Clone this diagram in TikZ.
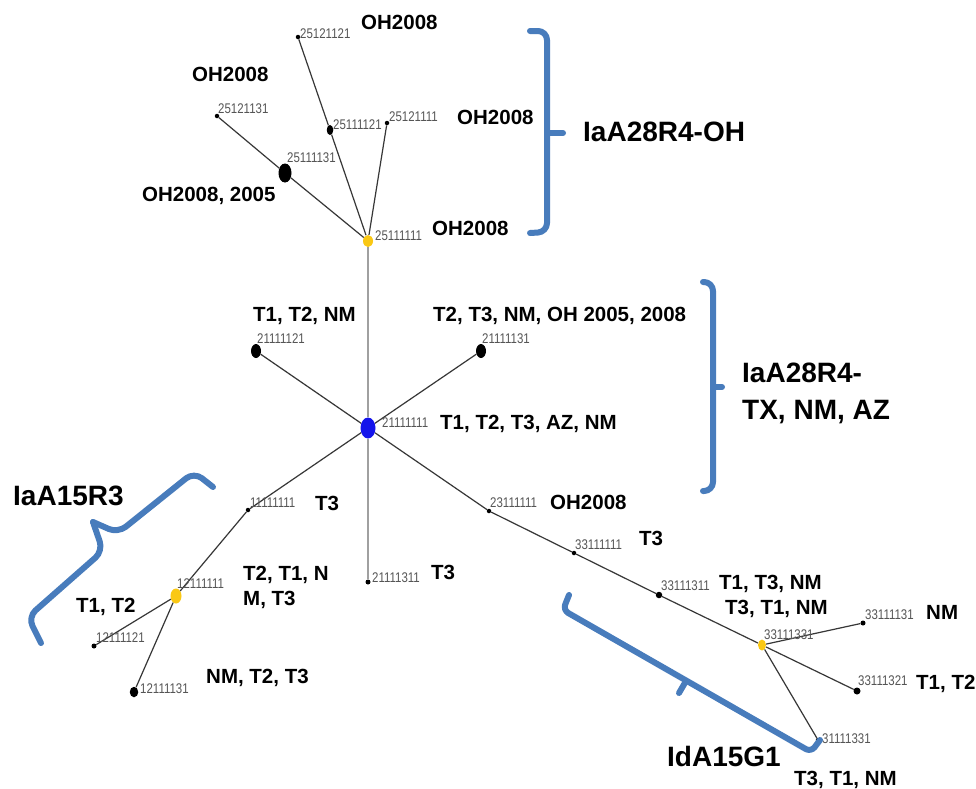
\documentclass[tikz,border=0pt]{standalone}
\usepackage{fontspec}
\setmainfont{Liberation Sans}
\newfontfamily\numfont[FakeStretch=0.82]{Liberation Sans}
\usetikzlibrary{shapes.geometric}
\definecolor{brblue}{RGB}{72,124,188}
\definecolor{numgray}{RGB}{85,85,85}
\definecolor{edgedark}{RGB}{55,55,55}
\definecolor{edgelight}{RGB}{160,160,160}
\definecolor{nodeyellow}{RGB}{250,200,20}
\definecolor{nodeblue}{RGB}{20,20,235}
\tikzset{
  lbl/.style={font=\bfseries\fontsize{20.5}{24}\selectfont, anchor=base west, inner sep=0pt},
  big/.style={font=\bfseries\fontsize{28}{34}\selectfont, anchor=base west, inner sep=0pt},
  num/.style={font=\numfont\fontsize{14}{15}\selectfont, text=numgray, anchor=base west, inner sep=0pt},
  pt/.style={ellipse, fill=black, inner sep=0pt, minimum width=#1, minimum height=#1},
  ept/.style n args={2}{ellipse, fill=black, inner sep=0pt, minimum width=#1, minimum height=#2},
  ypt/.style n args={2}{ellipse, fill=nodeyellow, inner sep=0pt, minimum width=#1, minimum height=#2},
  bpt/.style n args={2}{ellipse, fill=nodeblue, inner sep=0pt, minimum width=#1, minimum height=#2},
  edge/.style={draw=edgedark, line width=1.2pt},
  trunk/.style={draw=edgelight, line width=2.5pt},
  br/.style={draw=brblue, line width=6pt, line cap=round, line join=round},
}
\begin{document}
\begin{tikzpicture}[x=1pt,y=-1pt]
\useasboundingbox (0,0) rectangle (976,788);
\fill[white] (0,0) rectangle (976,788);

% ---- nodes (points) ----
\node[ypt={10}{12}] (n25111111) at (368,241) {};
\node[pt=4.5] (n25121121) at (298,37) {};
\node[pt=4.5] (n25121131) at (217,116) {};
\node[ept={6.5}{10}] (n25111121) at (330,130) {};
\node[pt=4.5] (n25121111) at (387,123) {};
\node[ept={13}{19}] (n25111131) at (285,173) {};
\node[bpt={15}{21}] (n21111111) at (368,428) {};
\node[ept={10}{14}] (n21111121) at (256,351) {};
\node[ept={10}{14}] (n21111131) at (481,351) {};
\node[pt=5] (n21111311) at (368,582) {};
\node[pt=4.5] (n11111111) at (248,510) {};
\node[ypt={11}{15}] (n12111111) at (176,596) {};
\node[pt=5] (n12111121) at (94,646) {};
\node[ept={8.5}{10.5}] (n12111131) at (134,692) {};
\node[pt=4.5] (n23111111) at (489,511) {};
\node[pt=4.5] (n33111111) at (574,553) {};
\node[pt=6.5] (n33111311) at (659,595) {};
\node[ypt={8}{11}] (n33111331) at (762,645) {};
\node[pt=5] (n33111131) at (863,623) {};
\node[pt=7] (n33111321) at (857,691) {};
\node[pt=4.5] (n31111331) at (818,740) {};

% ---- connectors ----
\draw[trunk] (n25111111) -- (n21111111);
\draw[trunk] (n21111111) -- (n21111311);
\draw[edge] (n25111111) -- (n25111131);
\draw[edge] (n25111131) -- (n25121131);
\draw[edge] (n25111111) -- (n25111121);
\draw[edge] (n25111121) -- (n25121121);
\draw[edge] (n25111111) -- (n25121111);
\draw[edge] (n21111111) -- (n21111121);
\draw[edge] (n21111111) -- (n21111131);
\draw[edge] (n21111111) -- (n11111111);
\draw[edge] (n11111111) -- (n12111111);
\draw[edge] (n12111111) -- (n12111121);
\draw[edge] (n12111111) -- (n12111131);
\draw[edge] (n21111111) -- (n23111111);
\draw[edge] (n23111111) -- (n33111111);
\draw[edge] (n33111111) -- (n33111311);
\draw[edge] (n33111311) -- (n33111331);
\draw[edge] (n33111331) -- (n33111131);
\draw[edge] (n33111331) -- (n33111321);
\draw[edge] (n33111331) -- (n31111331);

% ---- id labels ----
\node[num] (t25121121) at (300,38) {25121121};
\node[num] (t25121131) at (218,113.5) {25121131};
\node[num] (t25111121) at (333,129.5) {25111121};
\node[num] (t25121111) at (389,121.5) {25121111};
\node[num] (t25111131) at (287,162.5) {25111131};
\node[num] (t25111111) at (375,240.5) {25111111};
\node[num] (t21111121) at (257,343.5) {21111121};
\node[num] (t21111131) at (482,343.5) {21111131};
\node[num] (t21111111) at (382,427.5) {21111111};
\node[num] (t21111311) at (372,582.5) {21111311};
\node[num] (t11111111) at (250,507.5) {11111111};
\node[num] (t12111111) at (177,588.5) {12111111};
\node[num] (t12111121) at (96,642.5) {12111121};
\node[num] (t12111131) at (140,693.5) {12111131};
\node[num] (t23111111) at (490,507.5) {23111111};
\node[num] (t33111111) at (575,549.5) {33111111};
\node[num] (t33111311) at (661,590.5) {33111311};
\node[num] (t33111331) at (764,639.5) {33111331};
\node[num] (t33111131) at (865,619.5) {33111131};
\node[num] (t33111321) at (858,685.5) {33111321};
\node[num] (t31111331) at (822,743.5) {31111331};

% ---- bold labels ----
\node[lbl] (a1) at (361,29.5) {OH2008};
\node[lbl] (a2) at (192,81.5) {OH2008};
\node[lbl] (a3) at (457,124.5) {OH2008};
\node[lbl] (a4) at (142,201.5) {OH2008, 2005};
\node[lbl] (a5) at (432,235.5) {OH2008};
\node[lbl] (a6) at (253,321.5) {T1, T2, NM};
\node[lbl] (a7) at (433,321.5) {T2, T3, NM, OH 2005, 2008};
\node[lbl] (a8) at (440,429.5) {T1, T2, T3, AZ, NM};
\node[lbl] (a9) at (315,510.5) {T3};
\node[lbl] (a10) at (243,580.5) {T2, T1, N};
\node[lbl] (a11) at (243,605.5) {M, T3};
\node[lbl] (a12) at (76,612.5) {T1, T2};
\node[lbl] (a13) at (206,683.5) {NM, T2, T3};
\node[lbl] (a14) at (431,579.5) {T3};
\node[lbl] (a15) at (550,509.5) {OH2008};
\node[lbl] (a16) at (639,545.5) {T3};
\node[lbl] (a17) at (719,589.5) {T1, T3, NM};
\node[lbl] (a18) at (725,614.5) {T3, T1, NM};
\node[lbl] (a19) at (926,619.5) {NM};
\node[lbl] (a20) at (916,689.5) {T1, T2};
\node[lbl] (a21) at (794,785.5) {T3, T1, NM};

% ---- group labels ----
\node[big] (g1) at (583,141) {IaA28R4-OH};
\node[big] (g2a) at (742,382) {IaA28R4-};
\node[big] (g2b) at (742,419) {TX, NM, AZ};
\node[big] (g3) at (13,505) {IaA15R3};
\node[big] (g4) at (667,766) {IdA15G1};

% ---- brackets ----
\draw[br, rounded corners=9pt] (530,31) -- (547,31) -- (547,232) -- (530,233);
\draw[br] (547,133) -- (563,133);
\draw[br, rounded corners=9pt] (703,282) -- (713,282) -- (713,491) -- (703,491);
\draw[br] (713,387) -- (722,387);
\draw[br, rounded corners=6pt] (569,595) -- (563,610) -- (811,752) -- (820,740);
\draw[br] (686,681) -- (679,693);
\draw[br, rounded corners=10pt] (41,643) -- (28,617) -- (103,551) -- (93,522);
\draw[br, rounded corners=10pt] (93,522) -- (118,533) -- (194,472) -- (213,487);
\end{tikzpicture}
\end{document}
